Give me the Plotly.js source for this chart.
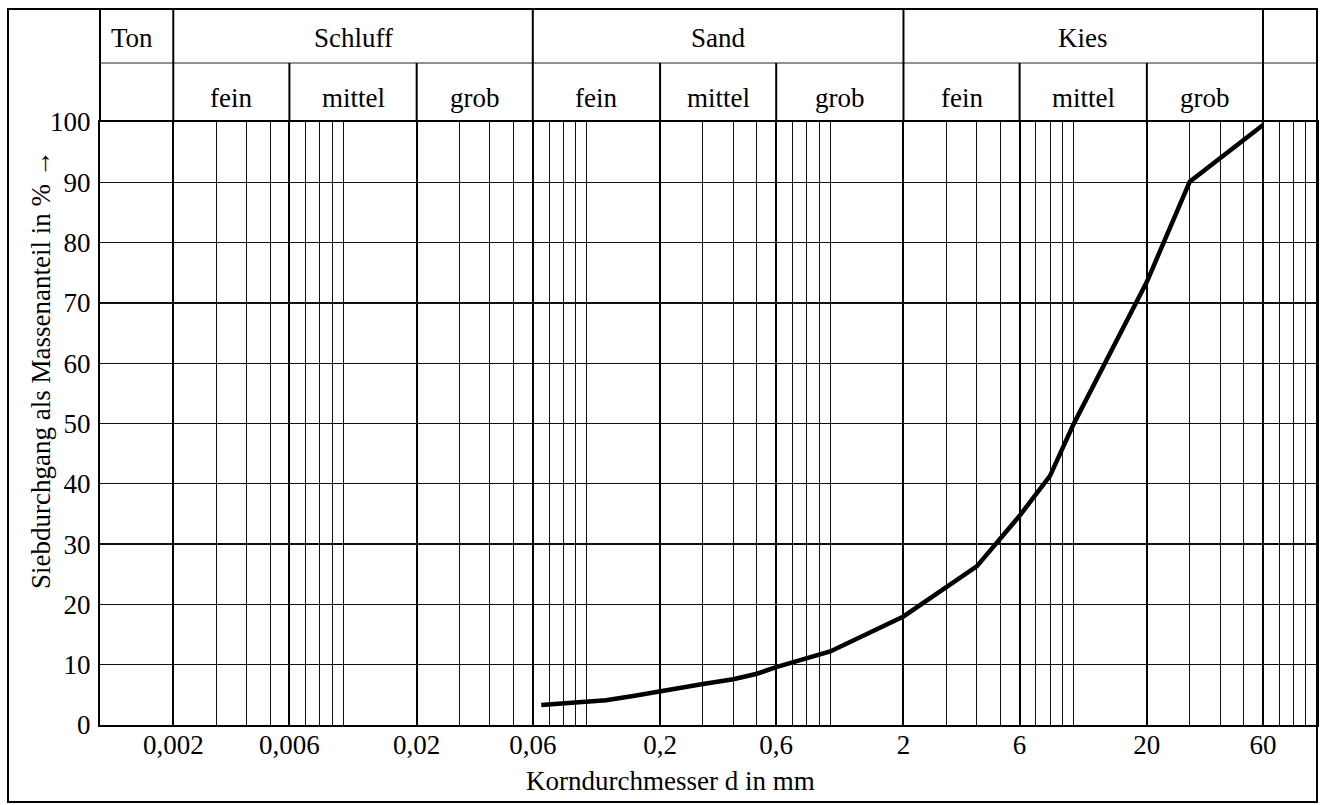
<!DOCTYPE html>
<html>
<head>
<meta charset="utf-8">
<script src="https://cdn.plot.ly/plotly-3.0.1.min.js"></script>
<style>html,body{margin:0;padding:0;background:#fff;}</style>
</head>
<body>
<div id="chart" style="width:1322px;height:805px;"></div>
<script>
// ---- data ----
var grainDiameter = [0.065, 0.08, 0.12, 0.155, 0.2, 0.3, 0.4, 0.5, 0.6, 0.8, 1, 2, 4, 6, 8, 10, 20, 30, 60];
var passingPercent = [3.3, 3.6, 4.1, 4.8, 5.5, 6.8, 7.6, 8.5, 9.6, 11.0, 12.2, 18.0, 26.3, 34.7, 41.3, 49.9, 73.5, 90.1, 99.5];

var majorTickVals = [0.002, 0.006, 0.02, 0.06, 0.2, 0.6, 2, 6, 20, 60];
var majorTickText = ['0,002', '0,006', '0,02', '0,06', '0,2', '0,6', '2', '6', '20', '60'];
var minorGridVals = [0.003, 0.004, 0.005, 0.007, 0.008, 0.009, 0.01,
                     0.03, 0.04, 0.05, 0.07, 0.08, 0.09, 0.1,
                     0.3, 0.4, 0.5, 0.7, 0.8, 0.9, 1,
                     3, 4, 5, 7, 8, 9, 10,
                     30, 40, 50, 70, 80, 90];
var yTickVals = [0, 10, 20, 30, 40, 50, 60, 70, 80, 90, 100];

var groupNames = ['Ton', 'Schluff', 'Sand', 'Kies', ''];
var groupBounds = [0.001, 0.002, 0.06, 2, 60, 100];
var subNames = ['fein', 'mittel', 'grob', 'fein', 'mittel', 'grob', 'fein', 'mittel', 'grob'];
var subBounds = [0.002, 0.006, 0.02, 0.06, 0.2, 0.6, 2, 6, 20, 60];

var xTitle = 'Korndurchmesser d in mm';
var yTitle = 'Siebdurchgang als Massenanteil in % \u2192';

// ---- layout helpers ----
var FONT = 'Liberation Serif, Times New Roman, serif';
var FS = 27;
var W = 1322, H = 805;
var mL = 100, mR = 5, mT = 122, mB = 80;
var plotH = H - mT - mB;
function py(pix) { return (H - mB - pix) / plotH; }      // pixel row -> paper y
var plotW = W - mL - mR;
function px(pix) { return (pix - mL) / plotW; }          // pixel col -> paper x

var rowDivY = py(63), topY = py(9), frameBottom = py(802);
var row1Y = py(38), row2Y = py(98);

var shapes = [];
var lc = '#000';
// outer frame
shapes.push({type: 'rect', xref: 'paper', yref: 'paper', x0: px(8), x1: 1, y0: frameBottom, y1: topY,
             line: {color: lc, width: 2}, fillcolor: 'rgba(0,0,0,0)'});
// left column line of header
shapes.push({type: 'line', xref: 'paper', yref: 'paper', x0: 0, x1: 0, y0: 1, y1: topY, line: {color: lc, width: 2}});
// header row divider
shapes.push({type: 'line', xref: 'paper', yref: 'paper', x0: 0, x1: 1, y0: rowDivY, y1: rowDivY, line: {color: '#222', width: 1}});
// main group dividers (full header height)
for (var i = 1; i < groupBounds.length - 1; i++) {
  shapes.push({type: 'line', xref: 'x', yref: 'paper', x0: groupBounds[i], x1: groupBounds[i], y0: 1, y1: topY,
               line: {color: lc, width: 2}});
}
// sub dividers (lower header row)
for (var j = 1; j < subBounds.length - 1; j++) {
  if (groupBounds.indexOf(subBounds[j]) >= 0) continue;
  shapes.push({type: 'line', xref: 'x', yref: 'paper', x0: subBounds[j], x1: subBounds[j], y0: 1, y1: rowDivY,
               line: {color: lc, width: 2}});
}

var annotations = [];
function lg(v) { return Math.log10(v); }
for (var g = 0; g < groupNames.length; g++) {
  if (!groupNames[g]) continue;
  annotations.push({xref: 'x', yref: 'paper', x: (lg(groupBounds[g]) + lg(groupBounds[g + 1])) / 2, y: row1Y,
                    text: groupNames[g], showarrow: false, xanchor: 'center', yanchor: 'middle',
                    xshift: g === 0 ? -5 : 0,
                    font: {family: FONT, size: FS, color: '#000'}});
}
for (var s = 0; s < subNames.length; s++) {
  annotations.push({xref: 'x', yref: 'paper', x: (lg(subBounds[s]) + lg(subBounds[s + 1])) / 2, y: row2Y,
                    text: subNames[s], showarrow: false, xanchor: 'center', yanchor: 'middle',
                    font: {family: FONT, size: FS, color: '#000'}});
}
// axis titles
annotations.push({xref: 'paper', yref: 'paper', x: px(670), y: py(781), text: xTitle, showarrow: false,
                  xanchor: 'center', yanchor: 'middle', font: {family: FONT, size: FS, color: '#000'}});
annotations.push({xref: 'paper', yref: 'paper', x: px(41), y: py(370), text: yTitle, showarrow: false,
                  textangle: -90, xanchor: 'center', yanchor: 'middle', font: {family: FONT, size: FS, color: '#000'}});

var trace = {
  type: 'scatter', mode: 'lines', x: grainDiameter, y: passingPercent,
  line: {color: '#000', width: 4.5, shape: 'linear'}, hoverinfo: 'x+y'
};

var layout = {
  width: W, height: H,
  margin: {l: mL, r: mR, t: mT, b: mB, pad: 0},
  paper_bgcolor: '#fff', plot_bgcolor: '#fff',
  showlegend: false,
  xaxis: {
    type: 'log', range: [-3, 2], tickmode: 'array', tickvals: majorTickVals, ticktext: majorTickText,
    ticks: '', showgrid: true, gridcolor: '#000', gridwidth: 2,
    showline: true, linecolor: '#000', linewidth: 2, mirror: true, zeroline: false,
    tickfont: {family: FONT, size: FS, color: '#000'}, ticklabelstandoff: -5,
    minor: {tickmode: 'array', tickvals: minorGridVals, showgrid: true, gridcolor: '#111', gridwidth: 1, ticks: ''}
  },
  yaxis: {
    range: [0, 100], tickmode: 'array', tickvals: yTickVals,
    ticks: '', showgrid: true, gridcolor: '#111', gridwidth: 1.3,
    showline: true, linecolor: '#000', linewidth: 2, mirror: true, zeroline: false,
    tickfont: {family: FONT, size: FS, color: '#000'}, ticklabelstandoff: 2
  },
  shapes: shapes,
  annotations: annotations
};

Plotly.newPlot('chart', [trace], layout, {displayModeBar: false, staticPlot: true});
</script>
</body>
</html>
